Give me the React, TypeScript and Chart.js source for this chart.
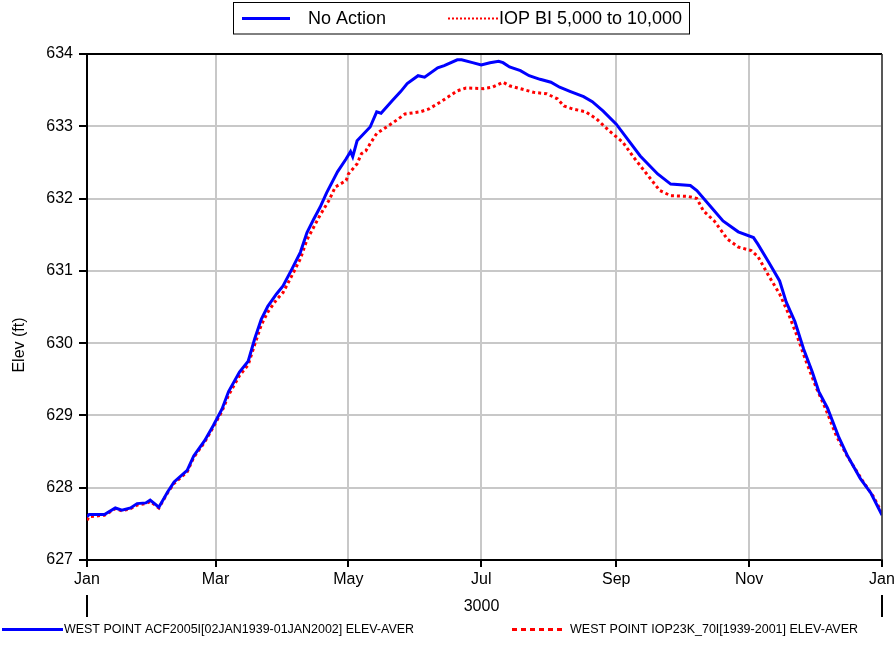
import React, { useEffect, useRef } from "react";
import { Chart, registerables } from "chart.js";

Chart.register(...registerables);

const MONTH_TICKS = [0, 59, 120, 181, 243, 304, 365];
const MONTH_LABELS = ["Jan", "Mar", "May", "Jul", "Sep", "Nov", "Jan"];
const YEAR_LABEL = "3000";
const Y_MIN = 627;
const Y_MAX = 634;
const Y_TITLE = "Elev (ft)";

const SERIES_TOP_NAMES = ["No Action", "IOP BI 5,000 to 10,000"];
const SERIES_BOTTOM_NAMES = [
  "WEST POINT ACF2005I[02JAN1939-01JAN2002] ELEV-AVER",
  "WEST POINT IOP23K_70I[1939-2001] ELEV-AVER",
];

const blueDays = [
  0, 1, 8, 13, 16, 20, 23, 27, 29, 33, 37, 40, 46, 49, 54, 58, 62, 65, 70, 74,
  77, 80, 83, 87, 90, 94, 98, 101, 104, 107, 110, 115, 119, 121, 122, 124, 130,
  133, 135, 140, 144, 147, 152, 155, 161, 164, 170, 172, 177, 181, 185, 189,
  191, 194, 199, 203, 208, 213, 217, 222, 228, 232, 237, 243, 248, 254, 262,
  268, 277, 280, 286, 292, 299, 306, 308, 313, 318, 321, 325, 329, 333, 336,
  340, 345, 349, 355, 360, 365,
];
const blueElev = [
  627.6, 627.63, 627.63, 627.72, 627.69, 627.72, 627.78, 627.79, 627.83,
  627.73, 627.94, 628.08, 628.24, 628.44, 628.65, 628.86, 629.09, 629.33,
  629.6, 629.75, 630.06, 630.33, 630.51, 630.68, 630.79, 631.02, 631.26,
  631.53, 631.71, 631.88, 632.08, 632.37, 632.55, 632.65, 632.58, 632.8,
  632.99, 633.2, 633.18, 633.35, 633.48, 633.59, 633.7, 633.68, 633.81,
  633.84, 633.92, 633.92, 633.88, 633.85, 633.88, 633.9, 633.88, 633.82,
  633.77, 633.7, 633.65, 633.61, 633.54, 633.48, 633.41, 633.34, 633.21,
  633.03, 632.83, 632.59, 632.34, 632.2, 632.18, 632.11, 631.9, 631.69,
  631.54, 631.46, 631.37, 631.12, 630.86, 630.57, 630.3, 629.92, 629.6,
  629.33, 629.1, 628.71, 628.45, 628.13, 627.92, 627.62,
];

const redDays = [
  0, 1, 8, 13, 16, 20, 23, 27, 29, 33, 37, 40, 46, 49, 54, 58, 62, 65, 70, 74,
  77, 80, 83, 87, 90, 94, 98, 101, 104, 107, 111, 114, 119, 120, 124, 126, 128,
  130, 133, 136, 141, 146, 153, 157, 163, 170, 174, 182, 186, 191, 194, 199,
  205, 211, 216, 219, 223, 229, 234, 240, 246, 251, 257, 263, 268, 276, 280,
  283, 288, 294, 299, 305, 308, 313, 318, 322, 326, 330, 335, 339, 344, 349,
  356, 361, 365,
];
const redElev = [
  627.55, 627.6, 627.62, 627.71, 627.68, 627.71, 627.76, 627.78, 627.81,
  627.72, 627.93, 628.06, 628.22, 628.42, 628.63, 628.84, 629.06, 629.28,
  629.55, 629.7, 629.98, 630.25, 630.43, 630.6, 630.7, 630.93, 631.17,
  631.43, 631.6, 631.77, 631.97, 632.16, 632.25, 632.34, 632.48, 632.62,
  632.66, 632.76, 632.9, 632.96, 633.06, 633.17, 633.2, 633.24, 633.35,
  633.49, 633.53, 633.52, 633.54, 633.61, 633.56, 633.52, 633.47, 633.45,
  633.38, 633.28, 633.24, 633.2, 633.1, 632.93, 632.78, 632.57, 632.34,
  632.11, 632.04, 632.03, 632.0, 631.83, 631.69, 631.44, 631.33, 631.28,
  631.2, 630.93, 630.68, 630.41, 630.1, 629.76, 629.37, 629.1, 628.72,
  628.44, 628.1, 627.88, 627.65,
];

const BLUE = "#0000ff";
const RED = "#ff0000";
const FONT = "'Liberation Sans', Arial, sans-serif";

function fitText(ctx: CanvasRenderingContext2D, text: string, x: number, y: number, width: number) {
  const w = ctx.measureText(text).width;
  ctx.save();
  ctx.translate(x, y);
  ctx.scale(width / w, 1);
  ctx.fillText(text, 0, 0);
  ctx.restore();
}

const decorPlugin = {
  id: "decor",
  afterDraw(chart: any) {
    const ctx: CanvasRenderingContext2D = chart.ctx;
    const { left, right, top, bottom } = chart.chartArea;
    const xs = chart.scales.x;
    ctx.save();
    // top and right frame
    ctx.strokeStyle = "#000";
    ctx.lineWidth = 2;
    ctx.beginPath();
    ctx.moveTo(left - 1, top);
    ctx.lineTo(right, top);
    ctx.stroke();
    ctx.lineWidth = 1.5;
    ctx.strokeStyle = "#333";
    ctx.beginPath();
    ctx.moveTo(right, top);
    ctx.lineTo(right, bottom);
    ctx.stroke();

    // year row
    const x0 = xs.getPixelForValue(MONTH_TICKS[0]);
    const x1 = xs.getPixelForValue(MONTH_TICKS[MONTH_TICKS.length - 1]);
    ctx.strokeStyle = "#000";
    ctx.lineWidth = 2;
    ctx.beginPath();
    ctx.moveTo(x0, bottom + 35);
    ctx.lineTo(x0, bottom + 57);
    ctx.moveTo(x1, bottom + 35);
    ctx.lineTo(x1, bottom + 57);
    ctx.stroke();
    ctx.fillStyle = "#000";
    ctx.font = `16px ${FONT}`;
    ctx.textAlign = "center";
    ctx.textBaseline = "middle";
    ctx.fillText(YEAR_LABEL, (x0 + x1) / 2 - 3, bottom + 47);

    // y title
    ctx.save();
    ctx.translate(20, 345);
    ctx.rotate(-Math.PI / 2);
    ctx.fillText(Y_TITLE, 0, 0);
    ctx.restore();

    // top legend box
    ctx.fillStyle = "#fff";
    ctx.fillRect(233.5, 2.5, 456, 31.5);
    ctx.strokeStyle = "#000";
    ctx.lineWidth = 1;
    ctx.strokeRect(233.5, 2.5, 456, 31.5);
    ctx.strokeStyle = BLUE;
    ctx.lineWidth = 3;
    ctx.beginPath();
    ctx.moveTo(242, 18.5);
    ctx.lineTo(290, 18.5);
    ctx.stroke();
    ctx.strokeStyle = RED;
    ctx.lineWidth = 2;
    ctx.setLineDash([2, 2]);
    ctx.beginPath();
    ctx.moveTo(448, 18.5);
    ctx.lineTo(498, 18.5);
    ctx.stroke();
    ctx.setLineDash([]);
    ctx.fillStyle = "#000";
    ctx.font = `18px ${FONT}`;
    ctx.textAlign = "left";
    ctx.fillText(SERIES_TOP_NAMES[0], 308, 19);
    ctx.fillText(SERIES_TOP_NAMES[1], 499, 19);

    // bottom legend
    ctx.strokeStyle = BLUE;
    ctx.lineWidth = 3;
    ctx.beginPath();
    ctx.moveTo(2, 629.5);
    ctx.lineTo(63, 629.5);
    ctx.stroke();
    ctx.strokeStyle = RED;
    ctx.setLineDash([5, 4]);
    ctx.beginPath();
    ctx.moveTo(512, 629.5);
    ctx.lineTo(566, 629.5);
    ctx.stroke();
    ctx.setLineDash([]);
    ctx.fillStyle = "#000";
    ctx.font = `12px ${FONT}`;
    ctx.textBaseline = "middle";
    fitText(ctx, SERIES_BOTTOM_NAMES[0], 64, 630, 350);
    fitText(ctx, SERIES_BOTTOM_NAMES[1], 570, 630, 288);
    ctx.restore();
  },
};

export default function App() {
  const ref = useRef<HTMLCanvasElement | null>(null);
  useEffect(() => {
    if (!ref.current) return;
    Chart.defaults.font.family = FONT;
    Chart.defaults.color = "#000";
    const chart = new Chart(ref.current, {
      type: "line",
      data: {
        datasets: [
          {
            label: SERIES_TOP_NAMES[0],
            data: blueDays.map((d, i) => ({ x: d, y: blueElev[i] })),
            borderColor: BLUE,
            borderWidth: 3,
            pointRadius: 0,
            tension: 0,
            fill: false,
          },
          {
            label: SERIES_TOP_NAMES[1],
            data: redDays.map((d, i) => ({ x: d, y: redElev[i] })),
            borderColor: RED,
            borderWidth: 3,
            borderDash: [3, 3],
            pointRadius: 0,
            tension: 0,
            fill: false,
          },
        ],
      },
      options: {
        animation: false,
        responsive: false,
        layout: { padding: { top: 54, right: 14, bottom: 0, left: 0 } },
        plugins: {
          legend: { display: false },
          tooltip: { enabled: false },
          title: { display: false },
        },
        scales: {
          x: {
            type: "linear",
            min: MONTH_TICKS[0],
            max: MONTH_TICKS[MONTH_TICKS.length - 1],
            afterBuildTicks: (scale: any) => {
              scale.ticks = MONTH_TICKS.map((v) => ({ value: v }));
            },
            afterFit: (scale: any) => {
              scale.height = 85;
              scale.paddingRight = 0;
              scale.paddingLeft = 0;
            },
            ticks: {
              autoSkip: false,
              maxRotation: 0,
              padding: 3,
              font: { size: 16 },
              color: "#000",
              callback: (_v: any, i: number) => MONTH_LABELS[i],
            },
            grid: {
              color: "#c8c8c8",
              lineWidth: 2,
              tickColor: "#000",
              tickLength: 7,
            },
            border: { color: "#000", width: 2 },
          },
          y: {
            min: Y_MIN,
            max: Y_MAX,
            afterFit: (scale: any) => {
              scale.width = 87;
            },
            ticks: {
              stepSize: 1,
              padding: 6,
              font: { size: 16 },
              color: "#000",
              callback: (v: any) => String(v),
            },
            grid: {
              color: "#c8c8c8",
              lineWidth: 2,
              tickColor: "#000",
              tickLength: 8,
            },
            border: { color: "#000", width: 2 },
          },
        },
      },
      plugins: [decorPlugin],
    });
    return () => chart.destroy();
  }, []);
  return (
    <div style={{ position: "fixed", left: 0, top: 0, width: 896, height: 645, background: "#fff" }}>
      <canvas ref={ref} width={896} height={645} />
    </div>
  );
}
